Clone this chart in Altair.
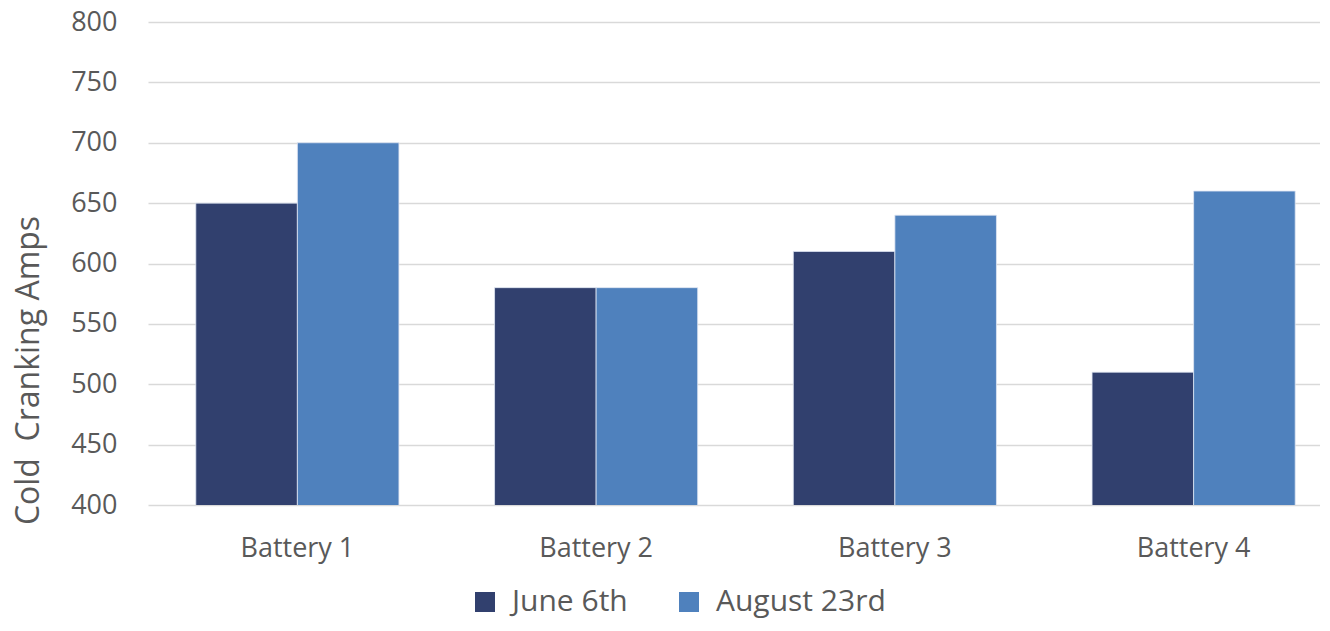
import altair as alt
import pandas as pd

batteries = ["Battery 1", "Battery 2", "Battery 3", "Battery 4"]
series = ["June 6th", "August 23rd"]
june = [650, 580, 610, 510]
august = [700, 580, 640, 660]
colors = ["#31406E", "#4F81BD"]

rows = []
for b, j, a in zip(batteries, june, august):
    rows.append({"battery": b, "date": series[0], "amps": j})
    rows.append({"battery": b, "date": series[1], "amps": a})
df = pd.DataFrame(rows)

FONT = "Open Sans"
GRAY = "#595959"

chart = alt.Chart(df).mark_bar(stroke="#dfe6f2", strokeWidth=0.8, clip=True).encode(
    x=alt.X("battery:N", sort=batteries,
            scale=alt.Scale(range=[0, 1195], paddingInner=0.32, paddingOuter=0.16),
            axis=alt.Axis(title=None, labelAngle=0, ticks=False, domain=False,
                          labelPadding=30, labelFontSize=27, labelColor=GRAY,
                          labelFont=FONT, grid=False)),
    xOffset=alt.XOffset("date:N", sort=series,
                        scale=alt.Scale(paddingInner=0, paddingOuter=0)),
    y=alt.Y("amps:Q",
            scale=alt.Scale(domain=[400, 800], nice=False, zero=False),
            axis=alt.Axis(title="Cold\u00a0 Cranking Amps", values=list(range(400, 801, 50)),
                          ticks=False, domain=False, labelPadding=31,
                          labelFontSize=27, labelColor=GRAY, labelFont=FONT,
                          gridColor="#d9d9d9", gridWidth=1.5,
                          titleFont=FONT, titleFontSize=32, titleColor=GRAY,
                          titleFontWeight="normal", titleAngle=-90,
                          titleX=-103, titleY=348, titleAlign="center",
                          titleBaseline="bottom")),
    color=alt.Color("date:N", sort=series,
                    scale=alt.Scale(domain=series, range=colors),
                    legend=alt.Legend(title=None, orient="none", direction="horizontal",
                                      legendX=322, legendY=565,
                                      symbolType="square", symbolSize=400,
                                      symbolStrokeWidth=0, labelFontSize=30,
                                      labelFont=FONT, labelColor=GRAY,
                                      labelLimit=500,
                                      labelOffset=12, columnPadding=46)),
).properties(
    width=1172,
    height=483,
    autosize=alt.AutoSizeParams(type="none"),
    padding={"left": 140, "top": 14, "right": 0, "bottom": 113},
).configure(background="white").configure_view(stroke="transparent", strokeWidth=0)

chart.save("out.html", embed_options={"renderer": "svg", "actions": False})
